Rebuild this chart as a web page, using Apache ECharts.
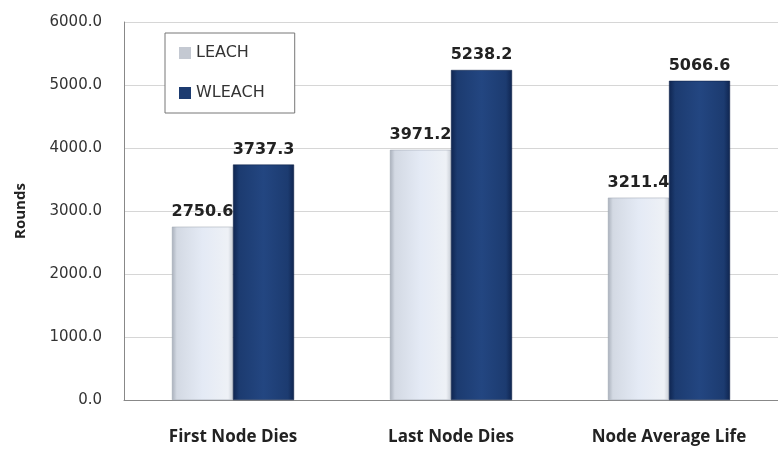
<!DOCTYPE html>
<html>
<head>
<meta charset="utf-8">
<script src="https://cdn.jsdelivr.net/npm/echarts@6/dist/echarts.min.js"></script>
<style>
  html, body { margin: 0; padding: 0; background: #fff; }
  #chart { width: 778px; height: 451px; }
</style>
</head>
<body>
<div id="chart"></div>
<script>
// 数据
const categories = ['First Node Dies', 'Last Node Dies', 'Node Average Life'];
const leachValues = [2750.6, 3971.2, 3211.4];
const wleachValues = [3737.3, 5238.2, 5066.6];

const chart = echarts.init(document.getElementById('chart'));

// 柱子的渐变（模拟立体效果）
const leachColor = new echarts.graphic.LinearGradient(0, 0, 1, 0, [
  { offset: 0, color: '#a9b0bb' },
  { offset: 0.08, color: '#d3d9e3' },
  { offset: 0.5, color: '#e4eaf5' },
  { offset: 0.92, color: '#eef1f6' },
  { offset: 1, color: '#c9ced6' }
]);
const wleachColor = new echarts.graphic.LinearGradient(0, 0, 1, 0, [
  { offset: 0, color: '#0f2550' },
  { offset: 0.1, color: '#1c3b70' },
  { offset: 0.5, color: '#234681' },
  { offset: 0.9, color: '#1c3b70' },
  { offset: 1, color: '#0f2550' }
]);

const labelStyle = {
  show: true,
  position: 'top',
  distance: 7,
  fontFamily: 'DejaVu Sans',
  fontWeight: 'bold',
  fontSize: 16,
  color: '#222',
  formatter: (p) => p.value.toFixed(1)
};

const option = {
  animation: false,
  backgroundColor: '#fff',
  grid: { left: 124, right: -5, top: 22, bottom: 51 },
  legend: {
    orient: 'vertical',
    left: 165,
    top: 33,
    padding: [12, 30, 12, 14],
    itemGap: 24,
    itemWidth: 12,
    itemHeight: 12,
    icon: 'rect',
    borderColor: '#777',
    borderWidth: 1,
    backgroundColor: '#fff',
    itemStyle: { borderWidth: 0 },
    textStyle: { fontFamily: 'DejaVu Sans', fontSize: 16, color: '#333' },
    data: [
      { name: 'LEACH', itemStyle: { color: '#c4c9d2', borderWidth: 0 } },
      { name: 'WLEACH', itemStyle: { color: '#1c3b70', borderWidth: 0 } }
    ]
  },
  xAxis: {
    type: 'category',
    data: categories,
    axisLine: { lineStyle: { color: '#888' } },
    axisTick: { show: false },
    axisLabel: {
      margin: 29,
      fontFamily: 'Open Sans',
      fontWeight: 'bold',
      fontSize: 17,
      color: '#222'
    }
  },
  yAxis: {
    type: 'value',
    min: 0,
    max: 6000,
    interval: 1000,
    name: 'Rounds',
    nameLocation: 'middle',
    nameGap: 96,
    nameTextStyle: { fontFamily: 'Open Sans', fontWeight: 'bold', fontSize: 15, color: '#222' },
    axisLine: { show: true, lineStyle: { color: '#888' } },
    axisTick: { show: false },
    splitLine: { lineStyle: { color: '#d6d6d6' } },
    axisLabel: {
      margin: 22,
      fontFamily: 'DejaVu Sans',
      fontSize: 15,
      color: '#333',
      formatter: (v) => v.toFixed(1)
    }
  },
  series: [
    {
      name: 'LEACH',
      type: 'bar',
      data: leachValues,
      barGap: '0%',
      barCategoryGap: '44%',
      itemStyle: { color: leachColor, borderColor: '#9aa2ae', borderWidth: 0.5 },
      label: labelStyle
    },
    {
      name: 'WLEACH',
      type: 'bar',
      data: wleachValues,
      itemStyle: { color: wleachColor, borderColor: '#0b1d40', borderWidth: 0.5 },
      label: labelStyle
    }
  ]
};

chart.setOption(option);
</script>
</body>
</html>
